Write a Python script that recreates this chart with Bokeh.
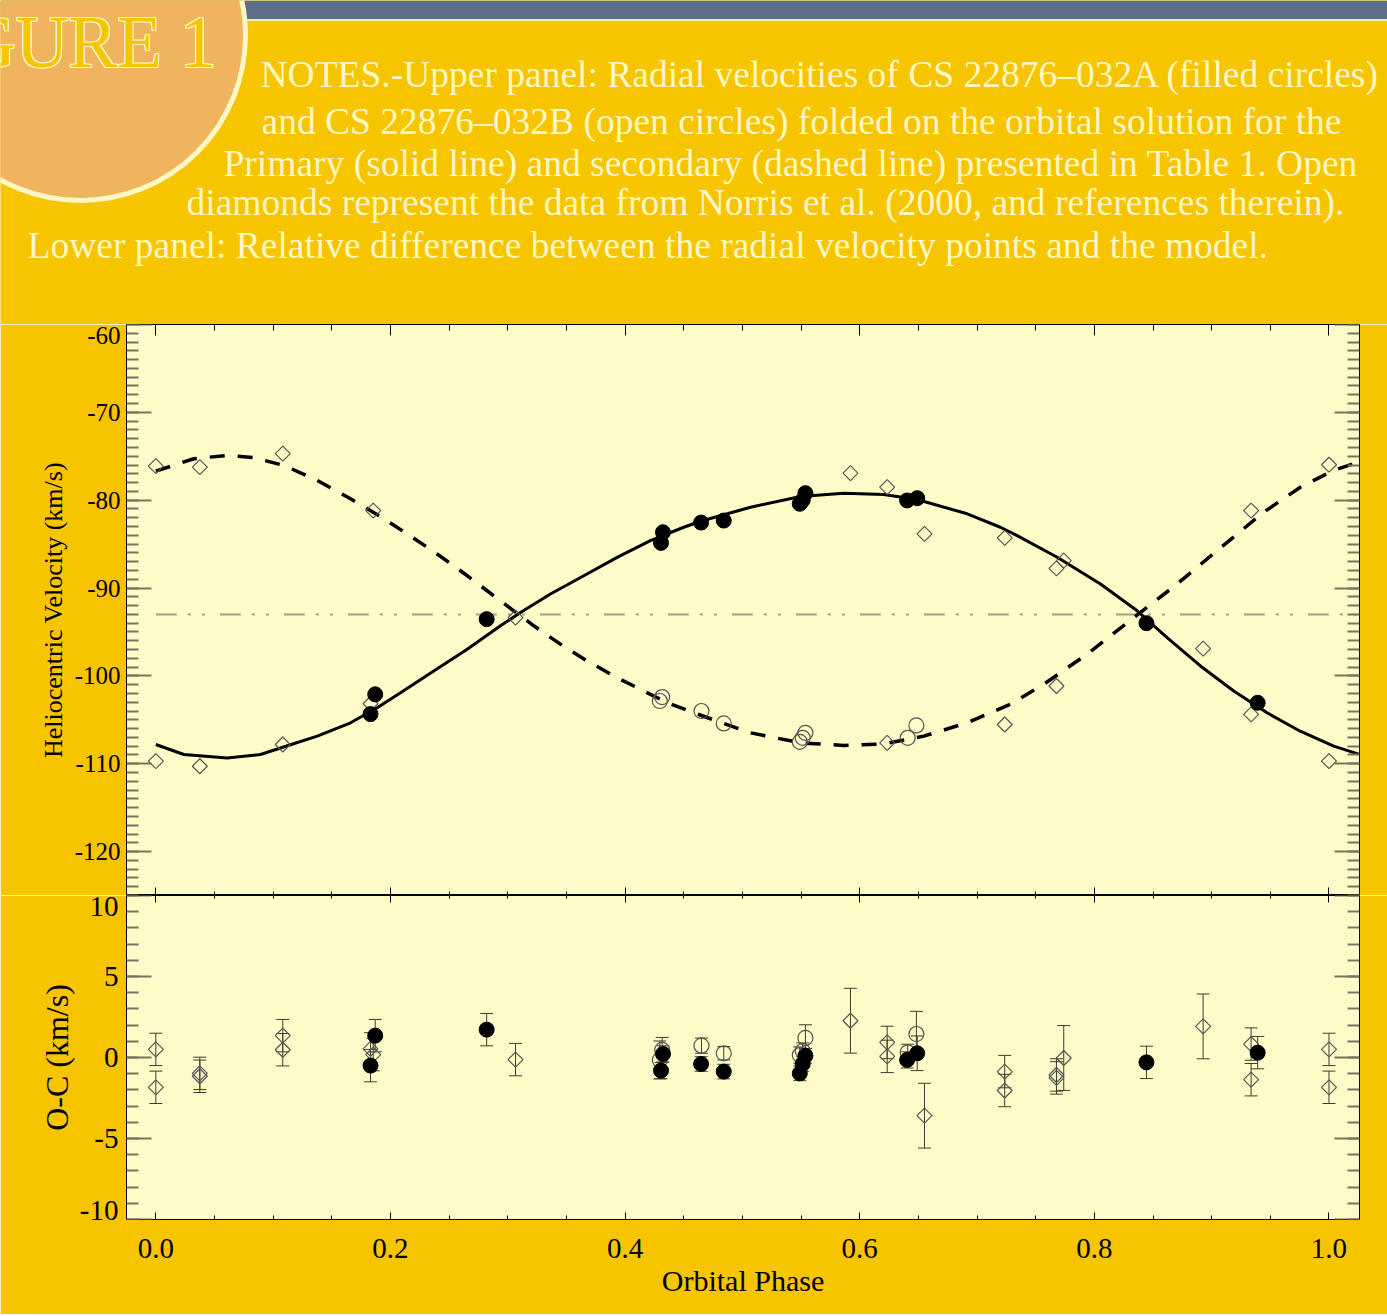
import math
from bokeh.plotting import figure
from bokeh.models import (Range1d, LinearAxis, FixedTicker, PrintfTickFormatter,
                          CustomJSTickFormatter, ColumnDataSource, Whisker, TeeHead)
from bokeh.layouts import column
from bokeh.core.properties import value
from bokeh.embed import file_html
from bokeh.resources import INLINE

# ---------------- data ----------------
# CS 22876-032A (filled circles)
a_phase = [0.183, 0.187, 0.282, 0.4306, 0.4323, 0.4648, 0.4841, 0.5489, 0.5514, 0.5537, 0.6404, 0.6490, 0.8444, 0.9392]
a_vel = [-104.35, -102.1, -93.54, -84.86, -83.65, -82.55, -82.32, -80.41, -80.0, -79.2, -80.03, -79.77, -94.0, -103.06]
a_oc = [-0.50, 1.35, 1.72, -0.81, 0.22, -0.40, -0.87, -0.98, -0.40, 0.11, -0.15, 0.26, -0.30, 0.30]
a_err = [1.0, 1.0, 1.0, 0.5, 0.5, 0.45, 0.45, 0.45, 0.45, 0.45, 0.5, 1.07, 1.0, 1.0]

# CS 22876-032B (open circles)
b_phase = [0.4296, 0.4316, 0.4651, 0.4841, 0.5489, 0.5514, 0.5537, 0.6409, 0.6483]
b_vel = [-102.86, -102.41, -104.0, -105.41, -107.51, -107.05, -106.48, -107.05, -105.64]
b_oc = [-0.15, 0.47, 0.73, 0.26, 0.15, 0.40, 1.21, 0.32, 1.45]
b_err = [1.17, 0.77, 0.47, 0.41, 0.5, 0.5, 0.81, 0.5, 1.4]

# Norris et al. (2000) data (open diamonds)
n_phase = [0.0, 0.0, 0.0375, 0.0375, 0.1082, 0.1082, 0.183, 0.1853, 0.3066, 0.5921, 0.6234, 0.6234,
           0.6552, 0.7236, 0.7236, 0.7677, 0.7677, 0.7739, 0.8927, 0.9336, 0.9336, 1.0, 1.0]
n_vel = [-76.12, -109.71, -76.23, -110.29, -74.70, -107.81, -103.17, -81.18, -93.36, -76.92, -78.51, -107.62,
         -83.84, -84.29, -105.53, -87.76, -101.15, -86.88, -96.89, -81.18, -104.38, -75.96, -109.71]
n_oc = [0.50, -1.84, -0.98, -1.16, 1.35, 0.48, 0.53, 0.18, -0.13, 2.27, 0.93, 0.07,
        -3.59, -0.87, -2.04, -1.26, -1.08, -0.03, 1.92, 0.83, -1.37, 0.50, -1.84]
n_err = [1.0, 1.0, 1.0, 1.0, 1.0, 1.0, 1.0, 1.0, 1.0, 2.0, 1.0, 1.0,
         2.0, 1.0, 1.0, 1.0, 1.0, 2.0, 2.0, 1.0, 1.0, 1.0, 1.0]

# orbital solution, primary (solid line)
prim_phase = [0.0, 0.0239, 0.0608, 0.0892, 0.1082, 0.1376, 0.166, 0.1887, 0.2086, 0.2369, 0.2654, 0.2938,
              0.3108, 0.3364, 0.3648, 0.3932, 0.4216, 0.45, 0.4643, 0.5069, 0.5495, 0.5864, 0.6205, 0.6489,
              0.6916, 0.7199, 0.7342, 0.7683, 0.8052, 0.8365, 0.862, 0.8904, 0.9188, 0.9472, 0.9755, 1.004,
              1.0253]
prim_vel = [-107.81, -108.95, -109.34, -108.95, -108.12, -106.86, -105.34, -103.63, -101.92, -99.44, -96.96,
            -94.30, -92.79, -90.68, -88.60, -86.51, -84.60, -83.08, -82.40, -80.80, -79.58, -79.20, -79.35,
            -79.92, -81.55, -83.08, -84.03, -86.5, -89.55, -92.59, -95.64, -98.87, -101.72, -104.2, -106.3,
            -108.0, -108.9]

# orbital solution, secondary (dashed line)
sec_phase = [0.0, 0.0324, 0.0608, 0.0835, 0.1091, 0.1376, 0.166, 0.1943, 0.2143, 0.2398, 0.2597, 0.2824,
             0.3051, 0.3222, 0.3449, 0.3677, 0.3932, 0.4159, 0.4359, 0.4585, 0.5069, 0.5495, 0.5864, 0.6205,
             0.6546, 0.6916, 0.7283, 0.7568, 0.7938, 0.8336, 0.8705, 0.9046, 0.9443, 0.9756, 1.004, 1.0253]
sec_vel = [-76.69, -75.28, -74.90, -75.16, -76.04, -77.75, -79.84, -82.1, -83.84, -86.12, -88.03, -90.31,
           -92.59, -94.30, -96.39, -98.30, -100.21, -101.72, -103.06, -104.2, -106.48, -107.62, -107.92,
           -107.74, -106.86, -105.34, -103.24, -100.96, -97.53, -93.36, -89.55, -85.74, -81.37, -78.52,
           -76.61, -75.66]

# systemic velocity
gamma_phase = [0.0, 1.03]
gamma_vel = [-93.0, -93.0]

# ticks
x_major = [0.0, 0.2, 0.4, 0.6, 0.8, 1.0]
x_minor = [i * 0.05 for i in range(21)]
v_major = [-60, -70, -80, -90, -100, -110, -120]
v_minor = list(range(-125, -59))
oc_major = [-10, -5, 0, 5, 10]
oc_minor = list(range(-10, 11))
# label anchors: end-of-axis labels sit just inside the frame, as in the original
v_label_at = [-61.3, -70, -80, -90, -100, -110, -120]
oc_label_at = [9.3, 5, 0, -5, -9.44]

notes_lines = [
    "NOTES.-Upper panel: Radial velocities of  CS 22876\u2013032A (filled circles)",
    "and CS 22876\u2013032B (open circles) folded on the orbital solution for the",
    "Primary (solid line) and secondary (dashed line) presented in Table 1. Open",
    "diamonds represent the data from Norris et al. (2000, and  references therein).",
    "Lower panel: Relative difference between the radial velocity points and the model.",
]

# ---------------- styles / layout ----------------
W = 1387
GOLD = "#F7C400"
PANEL = "#FFFBC8"
CREAM = "#FFF8C4"
SLATE = "#5F6E89"
ORANGE = "#F0B45E"
SERIF = "Liberation Serif"
TICK_Y = "#77745c"
MARK = "#555555"
BAR = "#3c3c30"

HDR_H = 324
UP_H = 571
LO_FRAME = 324
LO_BOT = 95
BL, BR = 126, 28

X0, X1 = -0.025, 1.026

# ---------------- header ----------------
hdr = figure(width=W, height=HDR_H, x_range=Range1d(0, W), y_range=Range1d(HDR_H, 0),
             toolbar_location=None, tools="", output_backend="svg",
             x_axis_location=None, y_axis_location=None, min_border=0,
             min_border_left=0, min_border_right=0, min_border_top=0, min_border_bottom=0,
             border_fill_color=GOLD, background_fill_color=GOLD, outline_line_color=None)
hdr.grid.visible = False
hdr.quad(left=[0], right=[W], top=[0], bottom=[18.5], fill_color=SLATE, line_color=None)
hdr.segment(x0=[0], y0=[19.5], x1=[W], y1=[19.5], line_color=CREAM, line_width=1.5)
hdr.circle(x=[80], y=[35], radius=165, fill_color=ORANGE, line_color=CREAM, line_width=5)

fx, fy = 216, 42
for dx, dy in [(-1.2, -1.2), (1.2, -1.2), (-1.2, 1.2), (1.2, 1.2)]:
    hdr.text(x=[fx + dx], y=[fy + dy], text=["FIGURE 1"], text_align="right", text_baseline="alphabetic",
             text_font=value(SERIF), text_font_size="73px", text_color=CREAM)
hdr.text(x=[fx], y=[fy], text=["FIGURE 1"], text_align="right", text_baseline="alphabetic",
         text_font=value(SERIF), text_font_size="73px", text_color=GOLD)

hdr.text(x=[260, 261, 223, 186, 27], y=[74, 121, 163, 202, 245], text=notes_lines,
         text_align="left", text_baseline="alphabetic", text_font=value(SERIF),
         text_font_size="37.5px", text_color=CREAM)


def tick_axis(p, side, ticks, minors, loc, major_len, minor_len, color, width):
    ax = LinearAxis(ticker=FixedTicker(ticks=ticks, minor_ticks=minors),
                    fixed_location=loc, major_tick_in=major_len, major_tick_out=0,
                    minor_tick_in=minor_len, minor_tick_out=0, axis_line_color=None,
                    major_label_text_color=None,
                    major_tick_line_color=color, minor_tick_line_color=color,
                    major_tick_line_width=width, minor_tick_line_width=width)
    p.add_layout(ax, side)


def label_axis(p, ticks, step, size, standoff, title, title_size, title_standoff):
    fmt = CustomJSTickFormatter(code="return (Math.round(tick / %d) * %d).toFixed(0);" % (step, step))
    ax = LinearAxis(ticker=FixedTicker(ticks=ticks, minor_ticks=[]), formatter=fmt,
                    axis_label=title,
                    major_tick_in=0, major_tick_out=0, minor_tick_in=0, minor_tick_out=0,
                    major_tick_line_color=None, minor_tick_line_color=None,
                    axis_line_color=None, major_label_standoff=standoff,
                    major_label_text_font=SERIF, major_label_text_font_size=size,
                    major_label_text_color="black",
                    axis_label_text_font=SERIF, axis_label_text_font_size=title_size,
                    axis_label_text_font_style="normal", axis_label_text_color="black",
                    axis_label_standoff=title_standoff)
    p.add_layout(ax, "left")


def panel(height, yr, bottom):
    p = figure(width=W, height=height, x_range=shared_x, y_range=yr,
               toolbar_location=None, tools="", output_backend="svg",
               x_axis_location=None, y_axis_location=None,
               min_border_left=BL, min_border_right=BR, min_border_top=0, min_border_bottom=bottom,
               border_fill_color=GOLD, background_fill_color=PANEL,
               outline_line_color="black", outline_line_width=1)
    p.grid.visible = False
    return p


shared_x = Range1d(X0, X1)

# ---------------- upper panel ----------------
up = panel(UP_H, Range1d(-125, -60), 0)
label_axis(up, v_label_at, 10, "25px", 6, "Heliocentric Velocity (km/s)", "26px", 4)
tick_axis(up, "left", v_major, v_minor, X0, 25, 12, TICK_Y, 2)
tick_axis(up, "right", v_major, v_minor, X1, 25, 12, TICK_Y, 2)
tick_axis(up, "above", x_major, x_minor, -60, 11, 6, "black", 1)
tick_axis(up, "below", x_major, x_minor, -125, 8, 4, "black", 1)

up.line(gamma_phase, gamma_vel, line_color="#a3a08a", line_width=2, line_dash="21 11 3 11 3 15")
up.line(prim_phase, prim_vel, line_color="black", line_width=3)
up.line(sec_phase, sec_vel, line_color="black", line_width=3.5, line_dash="15 13")
up.scatter(n_phase, n_vel, marker="square", size=10.6, angle=math.pi / 4,
           fill_color=None, line_color=MARK, line_width=1.2)
up.scatter(b_phase, b_vel, marker="circle", size=15, fill_color=None, line_color=MARK, line_width=1.2)
up.scatter(a_phase, a_vel, marker="circle", size=15, fill_color="black", line_color="black")

# ---------------- lower panel ----------------
lo = panel(LO_FRAME + LO_BOT, Range1d(-10, 10), LO_BOT)
label_axis(lo, oc_label_at, 5, "29px", 8, "O-C (km/s)", "32px", 2)
tick_axis(lo, "left", oc_major, oc_minor, X0, 25, 12, TICK_Y, 2)
tick_axis(lo, "right", oc_major, oc_minor, X1, 25, 12, TICK_Y, 2)
tick_axis(lo, "above", x_major, x_minor, 10, 7, 3, "black", 1)

xb = LinearAxis(ticker=FixedTicker(ticks=x_major, minor_ticks=x_minor),
                formatter=PrintfTickFormatter(format="%.1f"),
                axis_label="Orbital Phase",
                major_tick_in=7, major_tick_out=0, minor_tick_in=4, minor_tick_out=0,
                major_tick_line_color="black", minor_tick_line_color="black",
                axis_line_color=None, major_label_standoff=19,
                major_label_text_font=SERIF, major_label_text_font_size="29px",
                major_label_text_color="black",
                axis_label_text_font=SERIF, axis_label_text_font_size="30px",
                axis_label_text_font_style="normal", axis_label_text_color="black",
                axis_label_standoff=3)
lo.add_layout(xb, "below")


def bars(ph, oc, err):
    src = ColumnDataSource(dict(x=ph, lo=[o - e for o, e in zip(oc, err)],
                                hi=[o + e for o, e in zip(oc, err)]))
    w = Whisker(source=src, base="x", upper="hi", lower="lo", dimension="height",
                line_color=BAR, line_width=1,
                upper_head=TeeHead(size=13, line_color=BAR, line_width=1),
                lower_head=TeeHead(size=13, line_color=BAR, line_width=1))
    lo.add_layout(w)


bars(n_phase, n_oc, n_err)
bars(b_phase, b_oc, b_err)
bars(a_phase, a_oc, a_err)

lo.scatter(n_phase, n_oc, marker="square", size=10.6, angle=math.pi / 4,
           fill_color=None, line_color=MARK, line_width=1.2)
lo.scatter(b_phase, b_oc, marker="circle", size=15, fill_color=None, line_color=MARK, line_width=1.2)
lo.scatter(a_phase, a_oc, marker="circle", size=15, fill_color="black", line_color="black")

layout = column(hdr, column(up, lo, spacing=0), spacing=0)
open("out.html", "w").write(file_html(layout, INLINE))
